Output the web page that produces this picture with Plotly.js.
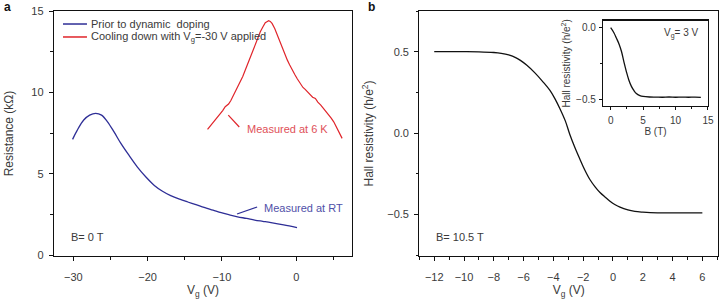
<!DOCTYPE html>
<html>
<head>
<meta charset="utf-8">
<script src="https://cdn.plot.ly/plotly-3.0.1.min.js"></script>
<style>
  html, body { margin: 0; padding: 0; background: #fff; }
  #chart { width: 720px; height: 299px; }
</style>
</head>
<body>
<div id="chart"></div>
<script>
// Panel a: resistance vs gate voltage
const priorVg = [-30.1, -29.5, -28.6, -27.8, -27.0, -26.2, -25.4, -24.5, -23.6, -22.5, -21.4, -20.2, -19.1, -18.0, -16.9, -15.7, -14.6, -13.5, -12.4, -11.2, -10.1, -9.0, -7.9, -6.7, -5.6, -4.5, -3.4, -1.7, 0.1];
const priorR = [7.11, 7.65, 8.3, 8.6, 8.71, 8.6, 8.19, 7.55, 6.86, 6.12, 5.42, 4.78, 4.28, 3.92, 3.65, 3.43, 3.26, 3.10, 2.93, 2.76, 2.60, 2.47, 2.35, 2.25, 2.15, 2.07, 1.99, 1.85, 1.68];

const cooledVg = [-11.94, -11.6, -11.2, -10.9, -10.67, -10.3, -9.9, -9.56, -9.3, -9.11, -8.8, -8.44, -8.1, -7.8, -7.53, -7.2, -6.86, -6.5, -6.19, -5.85, -5.51, -5.2, -4.84, -4.5, -4.17, -3.95, -3.72, -3.5, -3.26, -2.9, -2.6, -2.37, -2.1, -1.8, -1.47, -1.2, -0.9, -0.57, -0.2, 0.15, 0.55, 0.9, 1.2, 1.46, 1.8, 2.2, 2.57, 2.9, 3.3, 3.69, 4.0, 4.4, 4.7, 5.04, 5.4, 5.8, 6.17];
const cooledR = [7.73, 7.92, 8.12, 8.28, 8.40, 8.62, 8.88, 9.12, 9.22, 9.28, 9.50, 9.83, 10.12, 10.40, 10.65, 10.98, 11.37, 11.78, 12.19, 12.55, 13.0, 13.35, 13.72, 14.02, 14.28, 14.34, 14.40, 14.36, 14.24, 13.92, 13.58, 13.21, 12.95, 12.58, 12.19, 11.98, 11.70, 11.37, 11.10, 10.82, 10.55, 10.30, 10.18, 10.04, 9.88, 9.70, 9.63, 9.40, 9.22, 9.01, 8.82, 8.62, 8.42, 8.19, 7.88, 7.55, 7.17];

// Panel b: Hall resistivity vs gate voltage at B = 10.5 T
const hallVg = [-12, -11, -10, -9, -8, -7.5, -7, -6.5, -6.24, -5.8, -5.24, -4.7, -4.23, -3.9, -3.56, -3.2, -2.89, -2.55, -2.22, -1.9, -1.55, -1.2, -0.87, -0.5, -0.2, 0.15, 0.47, 1.0, 1.47, 2.0, 2.5, 3, 4, 5, 6];
const hallRho = [0.5, 0.5, 0.5, 0.499, 0.495, 0.49, 0.48, 0.462, 0.448, 0.418, 0.37, 0.315, 0.262, 0.212, 0.15, 0.075, -0.01, -0.09, -0.16, -0.225, -0.285, -0.33, -0.365, -0.395, -0.418, -0.44, -0.455, -0.472, -0.481, -0.486, -0.489, -0.49, -0.49, -0.49, -0.49];

// Inset: Hall resistivity vs field at Vg = 3 V
const insetB = [0, 0.5, 0.9, 1.3, 1.68, 2.05, 2.44, 2.8, 3.2, 3.6, 3.96, 4.5, 5, 6, 7, 8, 9, 10, 11, 12, 13, 13.9];
const insetRho = [0, -0.035, -0.074, -0.115, -0.168, -0.24, -0.31, -0.365, -0.41, -0.44, -0.46, -0.474, -0.48, -0.484, -0.485, -0.486, -0.484, -0.486, -0.485, -0.486, -0.485, -0.487];

const legendLabels = ['Prior to dynamic  doping', 'Cooling down with V<sub>g</sub>=-30 V applied'];

const FONT = 'Liberation Sans, Arial, sans-serif';
const TXT = '#3a3a3a';
const BLUE = '#2e2e96';
const RED = '#e0242a';

function axis(opts) {
  return Object.assign({
    showline: true, linecolor: '#111', linewidth: 1.2, mirror: true,
    ticks: 'outside', ticklen: 4, tickwidth: 1, tickcolor: '#111',
    showgrid: false, zeroline: false, ticklabelstandoff: 3,
    tickfont: { family: FONT, size: 11, color: TXT }
  }, opts);
}

const traces = [
  { x: priorVg, y: priorR, type: 'scatter', mode: 'lines', line: { color: BLUE, width: 1.3, shape: 'spline', smoothing: 1 }, xaxis: 'x', yaxis: 'y', name: legendLabels[0] },
  { x: cooledVg, y: cooledR, type: 'scatter', mode: 'lines', line: { color: RED, width: 1.2 }, xaxis: 'x', yaxis: 'y', name: legendLabels[1] },
  { x: hallVg, y: hallRho, type: 'scatter', mode: 'lines', line: { color: '#111', width: 1.3, shape: 'spline' }, xaxis: 'x2', yaxis: 'y2' },
  { x: insetB, y: insetRho, type: 'scatter', mode: 'lines', line: { color: '#111', width: 1.3, shape: 'spline' }, xaxis: 'x3', yaxis: 'y3' }
];

const minorTicks = (d, len) => ({ ticks: 'outside', ticklen: len, tickwidth: 1, tickcolor: '#111', dtick: d, showgrid: false });

const layout = {
  width: 720, height: 299,
  margin: { l: 0, r: 0, t: 0, b: 0 },
  paper_bgcolor: '#fff', plot_bgcolor: 'rgba(0,0,0,0)',
  showlegend: false,
  font: { family: FONT, color: TXT },
  xaxis: axis({ domain: [0.075, 0.4889], range: [-32.6, 7.5], dtick: 10, tick0: 0, minor: minorTicks(5, 2.5), ticklabelstandoff: 7,
    anchor: 'y', title: { text: 'V<sub>g</sub> (V)', font: { family: FONT, size: 12, color: TXT }, standoff: 1 } }),
  yaxis: axis({ domain: [0.1438, 0.9632], range: [-0.06, 15], dtick: 5, tick0: 0, minor: minorTicks(2.5, 2.5),
    anchor: 'x', title: { text: 'Resistance (kΩ)', font: { family: FONT, size: 12, color: TXT }, standoff: 15 } }),
  xaxis2: axis({ domain: [0.5824, 0.9972], range: [-13, 7.05], dtick: 2, tick0: 0, minor: minorTicks(1, 2.5), ticklabelstandoff: 7,
    anchor: 'y2', title: { text: 'V<sub>g</sub> (V)', font: { family: FONT, size: 12, color: TXT }, standoff: 1 } }),
  yaxis2: axis({ domain: [0.1438, 0.9632], range: [-0.755, 0.75], dtick: 0.5, tick0: 0, tickformat: '.1f', minor: minorTicks(0.25, 2.5),
    anchor: 'x2', title: { text: 'Hall resistivity (h/e<sup>2</sup>)', font: { family: FONT, size: 12, color: TXT }, standoff: 11 } }),
  xaxis3: axis({ domain: [0.8375, 0.9833], range: [-1.18, 15], dtick: 5, tick0: 0, ticklen: 3, ticklabelstandoff: 2, tickfont: { family: FONT, size: 10, color: TXT },
    minor: minorTicks(2.5, 2),
    anchor: 'y3', title: { text: 'B (T)', font: { family: FONT, size: 10, color: TXT }, standoff: 2 } }),
  yaxis3: axis({ domain: [0.6455, 0.9308], range: [-0.547, 0.049], dtick: 0.5, tick0: 0, tickformat: '.1f', ticklen: 3, ticklabelstandoff: 1, tickfont: { family: FONT, size: 10, color: TXT },
    minor: minorTicks(0.25, 2),
    anchor: 'x3', title: { text: 'Hall resistivity (h/e<sup>2</sup>)', font: { family: FONT, size: 10, color: TXT }, standoff: 3 } }),
  shapes: [
    // legend keys
    { type: 'line', xref: 'paper', yref: 'paper', x0: 0.0875, x1: 0.1208, y0: 0.9197, y1: 0.9197, line: { color: BLUE, width: 1.5 } },
    { type: 'line', xref: 'paper', yref: 'paper', x0: 0.0875, x1: 0.1208, y0: 0.8763, y1: 0.8763, line: { color: RED, width: 1.5 } },
    // pointer lines for the callouts
    { type: 'line', xref: 'x', yref: 'y', x0: -9.15, y0: 8.6, x1: -7.67, y1: 7.87, line: { color: RED, width: 1.2 } },
    { type: 'line', xref: 'x', yref: 'y', x0: -7.97, y0: 2.52, x1: -5.27, y1: 2.95, line: { color: BLUE, width: 1.2 } }
  ],
  annotations: [
    { xref: 'paper', yref: 'paper', x: 0.1236, y: 0.9197, xanchor: 'left', yanchor: 'middle', showarrow: false, text: legendLabels[0], font: { family: FONT, size: 11, color: TXT } },
    { xref: 'paper', yref: 'paper', x: 0.1236, y: 0.8763, xanchor: 'left', yanchor: 'middle', showarrow: false, text: legendLabels[1], font: { family: FONT, size: 11, color: TXT } },
    { xref: 'x', yref: 'y', x: -6.87, y: 7.74, xanchor: 'left', yanchor: 'middle', showarrow: false, text: 'Measured at 6 K', font: { family: FONT, size: 11, color: '#e05058' } },
    { xref: 'x', yref: 'y', x: -4.6, y: 2.89, xanchor: 'left', yanchor: 'middle', showarrow: false, text: 'Measured at RT', font: { family: FONT, size: 11, color: '#5050a8' } },
    { xref: 'x', yref: 'y', x: -30.6, y: 1.1, xanchor: 'left', yanchor: 'middle', showarrow: false, text: 'B= 0 T', font: { family: FONT, size: 11, color: TXT } },
    { xref: 'x2', yref: 'y2', x: -12.0, y: -0.64, xanchor: 'left', yanchor: 'middle', showarrow: false, text: 'B= 10.5 T', font: { family: FONT, size: 11, color: TXT } },
    { xref: 'x3', yref: 'y3', x: 14.0, y: -0.037, xanchor: 'right', yanchor: 'middle', showarrow: false, text: 'V<sub>g</sub>= 3 V', font: { family: FONT, size: 10, color: TXT } },
    { xref: 'paper', yref: 'paper', x: 0.003, y: 0.977, xanchor: 'left', yanchor: 'middle', showarrow: false, text: '<b>a</b>', font: { family: FONT, size: 12, color: '#111' } },
    { xref: 'paper', yref: 'paper', x: 0.509, y: 0.977, xanchor: 'left', yanchor: 'middle', showarrow: false, text: '<b>b</b>', font: { family: FONT, size: 12, color: '#111' } }
  ]
};

Plotly.newPlot('chart', traces, layout, { staticPlot: true, displayModeBar: false });
</script>
</body>
</html>
